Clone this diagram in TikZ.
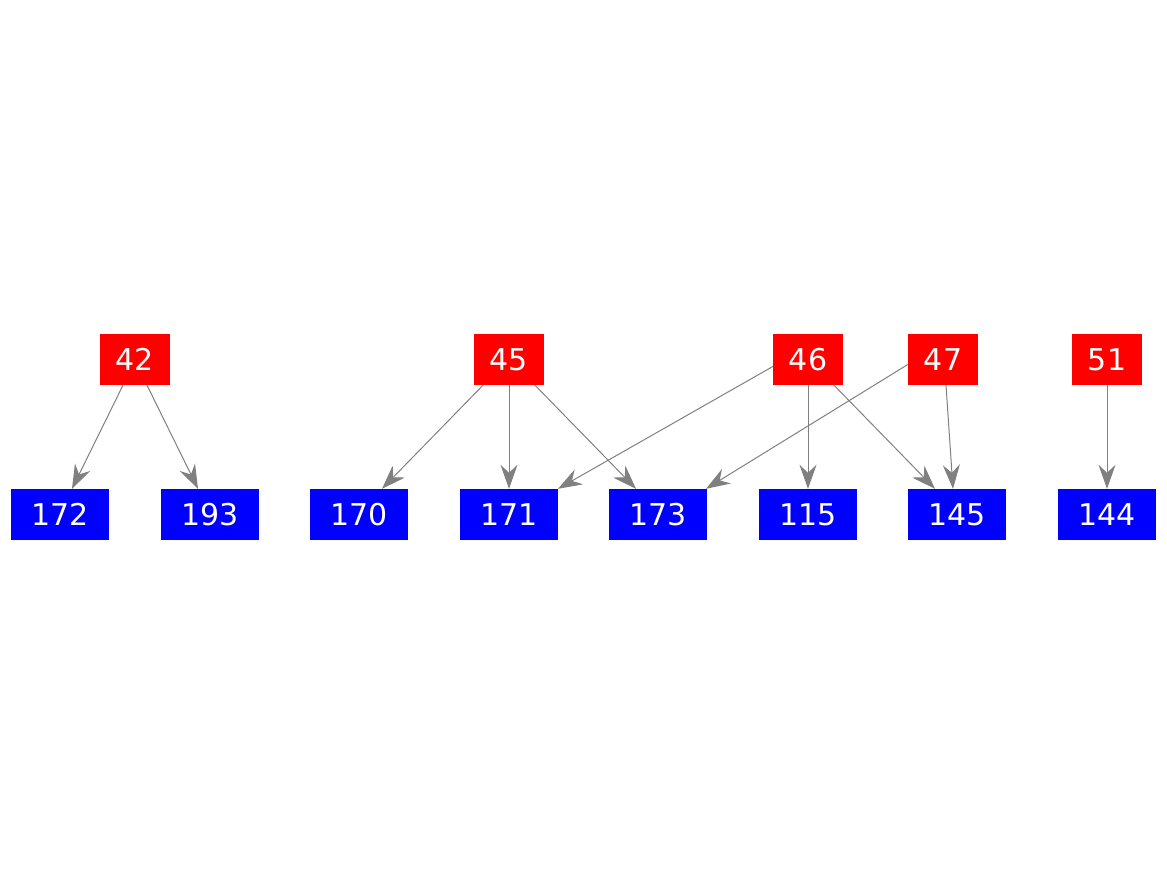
\documentclass[tikz,border=0pt]{standalone}
\usepackage{fontspec}
\setmainfont{DejaVu Sans}
\usetikzlibrary{arrows.meta}
\begin{document}
\begin{tikzpicture}[x=1pt,y=-1pt,
  src/.style={fill=red,text=white,minimum width=70pt,minimum height=51pt,inner sep=0pt,font=\fontsize{30}{34}\selectfont},
  dst/.style={fill=blue,text=white,minimum width=98pt,minimum height=51pt,inner sep=0pt,font=\fontsize{30}{34}\selectfont},
  edge/.style={draw=gray,line width=1pt,-{Stealth[length=24pt,width=17pt,inset=8pt]}}]
\useasboundingbox (0,0) rectangle (1167,875);
\node[src] (n42) at (135,359.5) {42};
\node[src] (n45) at (509,359.5) {45};
\node[src] (n46) at (808,359.5) {46};
\node[src] (n47) at (943,359.5) {47};
\node[src] (n51) at (1107,359.5) {51};
\node[dst] (n172) at (60,514.5) {172};
\node[dst] (n193) at (210,514.5) {193};
\node[dst] (n170) at (359,514.5) {170};
\node[dst] (n171) at (509,514.5) {171};
\node[dst] (n173) at (658,514.5) {173};
\node[dst] (n115) at (808,514.5) {115};
\node[dst] (n145) at (957,514.5) {145};
\node[dst] (n144) at (1107,514.5) {144};
\draw[edge] ([xshift=-12pt]n42.south) -- ([xshift=12pt]n172.north);
\draw[edge] ([xshift=12pt]n42.south) -- ([xshift=-12pt]n193.north);
\draw[edge] ([xshift=-26pt]n45.south) -- ([xshift=23pt]n170.north);
\draw[edge] (n45.south) -- (n171.north);
\draw[edge] ([xshift=26pt]n45.south) -- ([xshift=-22pt]n173.north);
\draw[edge] ([yshift=-7pt]n46.west) -- ([xshift=49pt]n171.north);
\draw[edge] (n46.south) -- (n115.north);
\draw[edge] ([xshift=26pt]n46.south) -- ([xshift=-22pt]n145.north);
\draw[edge] ([yshift=-5pt]n47.west) -- ([xshift=48pt]n173.north);
\draw[edge] ([xshift=3pt]n47.south) -- ([xshift=-4pt]n145.north);
\draw[edge] (n51.south) -- (n144.north);
\end{tikzpicture}
\end{document}
